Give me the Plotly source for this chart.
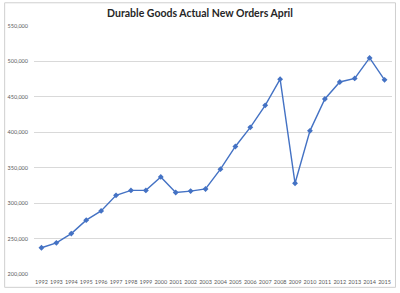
import plotly.graph_objects as go

years = [str(y) for y in range(1992, 2016)]
orders = [237000, 244000, 257000, 276000, 289000, 311000, 318000, 318000, 337000,
          315000, 317000, 320000, 348000, 380000, 407000, 438000, 475000, 328000,
          402000, 447000, 471000, 476000, 505000, 474000]
y_ticks = [200000, 250000, 300000, 350000, 400000, 450000, 500000, 550000]
y_tick_text = [f"{v:,}" for v in y_ticks]

W, H = 400, 293
L, R, T, B = 32, 8, 26, 16
pw, ph = W - L - R, H - T - B

fig = go.Figure()
fig.add_trace(go.Scatter(
    x=years, y=orders, mode="lines+markers",
    line=dict(color="#4472C4", width=1.4),
    marker=dict(symbol="diamond", size=4.5, color="#4472C4"),
    hoverinfo="x+y",
))

fig.update_layout(
    width=W, height=H,
    margin=dict(l=L, r=R, t=T, b=B, pad=0),
    paper_bgcolor="white", plot_bgcolor="white",
    showlegend=False,
    title=dict(text="Durable Goods Actual New Orders April",
               x=0.5, xanchor="center", y=1 - 13 / H, yanchor="middle",
               font=dict(family="Lato, 'Open Sans', sans-serif", size=10.5,
                         color="#262626", weight="bold")),
    xaxis=dict(type="category", range=[-0.5, 23.5], showgrid=False,
               showline=False, zeroline=False, ticks="", tickangle=0,
               tickfont=dict(family="Lato, sans-serif", size=5.5, color="#595959"),
               ticklabelstandoff=3),
    yaxis=dict(range=[200000, 550000], tickvals=y_ticks, ticktext=y_tick_text,
               showgrid=True, gridcolor="#D9D9D9", gridwidth=1,
               zeroline=False, showline=False, ticks="",
               tickfont=dict(family="Lato, sans-serif", size=5.5, color="#595959"),
               ticklabelstandoff=5),
)

# outer chart border
fig.add_shape(type="rect", xref="paper", yref="paper",
              x0=(2.5 - L) / pw, x1=(395.5 - L) / pw,
              y0=(H - B - 290.5) / ph, y1=(H - B - 2.5) / ph,
              line=dict(color="#CFCFCF", width=1), fillcolor="rgba(0,0,0,0)",
              layer="above")

fig.write_html("out.html")
